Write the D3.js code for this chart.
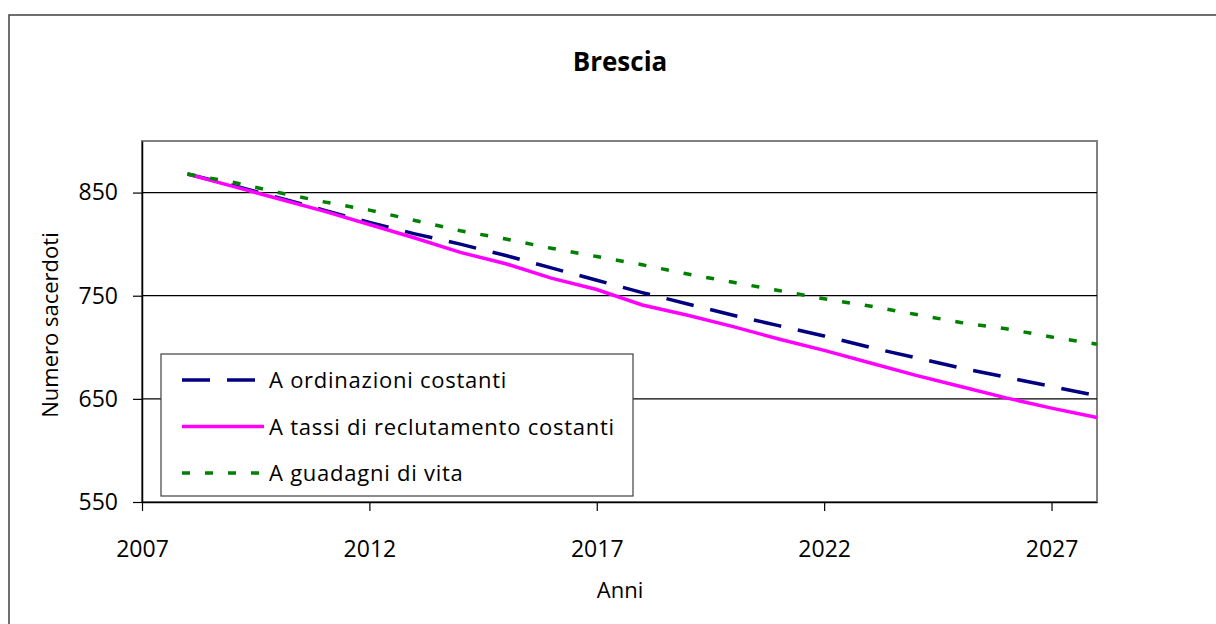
<!DOCTYPE html>
<html>
<head>
<meta charset="utf-8">
<script src="https://cdnjs.cloudflare.com/ajax/libs/d3/7.8.5/d3.min.js"></script>
<style>
  body { margin:0; background:#fff; }
  svg { display:block; font-family:"Open Sans", sans-serif; }
</style>
</head>
<body>
<div id="plot"></div>
<script>
//Data;
const years = [2008,2009,2010,2011,2012,2013,2014,2015,2016,2017,2018,2019,2020,2021,2022,2023,2024,2025,2026,2027,2028];
const ordinazioni = [868,857,845,833,821,810,800,789,777,765,753,742,731,721,711,700,690,680,671,662,653];
const reclutamento = [868,856,844,832,819,806,792,781,767,756,741,731,720,708,697,685,673,662,651,641,632];
const guadagni = [868,860,850,841,833,823,813,805,796,788,780,771,763,755,747,740,732,724,718,710,703];
const xTicks = [2007,2012,2017,2022,2027];
const yTicks = [550,650,750,850];
const seriesNames = ["A ordinazioni costanti","A tassi di reclutamento costanti","A guadagni di vita"];

//Set Height and Width Vars;
const w=1216;
const h=624;
const margin={top:141,right:119,bottom:122,left:142};

//Initialize SVG;
const svg = d3.select("#plot")
  .append("svg")
    .attr("width", w)
    .attr("height", h);

//Outer border;
svg.append("rect")
   .attr("x",9)
   .attr("y",15)
   .attr("width",w)
   .attr("height",h)
   .attr("fill","none")
   .attr("stroke","#404040")
   .attr("stroke-width",1.5);

//Scales;
const xScale = d3.scaleLinear()
  .domain([2007,2028])
  .range([margin.left, w-margin.right]);

const yScale = d3.scaleLinear()
  .domain([550,900])
  .range([h-margin.bottom, margin.top]);

//Plot area frame;
svg.append("rect")
   .attr("x",xScale(2007))
   .attr("y",yScale(900))
   .attr("width",xScale(2028)-xScale(2007))
   .attr("height",yScale(550)-yScale(900))
   .attr("fill","none")
   .attr("stroke","#808080")
   .attr("stroke-width",2);

//Grid lines;
svg.append("g")
   .selectAll("line")
   .data(yTicks.slice(1))
   .enter()
   .append("line")
   .attr("x1",xScale(2007))
   .attr("x2",xScale(2028))
   .attr("y1",function(d){return yScale(d);})
   .attr("y2",function(d){return yScale(d);})
   .attr("stroke","#000")
   .attr("stroke-width",1.2);

//Axes;
const xAxis = d3.axisBottom(xScale)
  .tickValues(xTicks)
  .tickFormat(d3.format("d"))
  .tickSize(9)
  .tickPadding(30)
  .tickSizeOuter(0);

const yAxis = d3.axisLeft(yScale)
  .tickValues(yTicks)
  .tickSize(9)
  .tickPadding(15)
  .tickSizeOuter(0);

const gx = svg.append("g")
   .attr("transform","translate(0," + yScale(550) + ")")
   .call(xAxis);

const gy = svg.append("g")
   .attr("transform","translate(" + xScale(2007) + ",0)")
   .call(yAxis);

[gx,gy].forEach(function(g){
  g.select(".domain").attr("stroke","#000").attr("stroke-width",1.5);
  g.selectAll(".tick line").attr("stroke","#000").attr("stroke-width",1.2);
  g.selectAll(".tick text")
   .attr("font-family","Open Sans, sans-serif")
   .attr("font-size","23px")
   .attr("fill","#000");
});

//Lines;
const series = [
  {name:seriesNames[0], values:ordinazioni, color:"#000080", dash:"28,17"},
  {name:seriesNames[1], values:reclutamento, color:"#FF00FF", dash:null},
  {name:seriesNames[2], values:guadagni, color:"#008000", dash:"8,15"}
];

const line = d3.line()
  .x(function(d){return xScale(d[0]);})
  .y(function(d){return yScale(d[1]);});

svg.append("g")
   .selectAll("path")
   .data(series)
   .enter()
   .append("path")
   .attr("d",function(s){
     return line(years.map(function(y,i){return [y,s.values[i]];}));
   })
   .attr("fill","none")
   .attr("stroke",function(s){return s.color;})
   .attr("stroke-width",3.5)
   .attr("stroke-dasharray",function(s){return s.dash;});

//Title;
svg.append("text")
   .attr("x",620)
   .attr("y",71)
   .attr("text-anchor","middle")
   .attr("font-size","26px")
   .attr("font-weight","bold")
   .text("Brescia");

//Axis titles;
svg.append("text")
   .attr("x",620)
   .attr("y",598)
   .attr("text-anchor","middle")
   .attr("font-size","22px")
   .text("Anni");

svg.append("text")
   .attr("transform","translate(58,325) rotate(-90)")
   .attr("text-anchor","middle")
   .attr("font-size","22px")
   .text("Numero sacerdoti");

//Legend;
const legend = svg.append("g")
   .attr("transform","translate(161,354)");

legend.append("rect")
   .attr("width",472)
   .attr("height",142)
   .attr("fill","#fff")
   .attr("stroke","#404040")
   .attr("stroke-width",1.2);

const items = legend.selectAll(".item")
   .data(series)
   .enter()
   .append("g")
   .attr("class","item")
   .attr("transform",function(d,i){return "translate(0," + (26 + i*46.5) + ")";});

items.append("line")
   .attr("x1",21)
   .attr("x2",103)
   .attr("stroke",function(d){return d.color;})
   .attr("stroke-width",3.5)
   .attr("stroke-dasharray",function(d){return d.dash;});

items.append("text")
   .attr("x",108)
   .attr("y",8)
   .attr("font-size","22px")
   .attr("letter-spacing","0.75px")
   .text(function(d){return d.name;});
</script>
</body>
</html>
